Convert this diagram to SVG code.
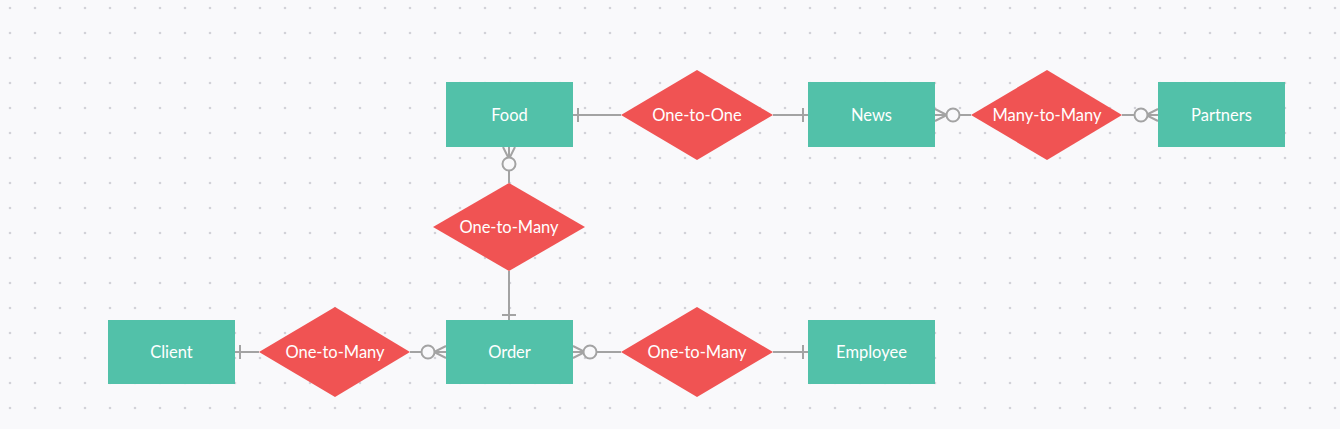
<svg xmlns="http://www.w3.org/2000/svg" width="1340" height="429" viewBox="0 0 1340 429">
<defs>
<pattern id="dots" x="0" y="0" width="25" height="25" patternUnits="userSpaceOnUse" patternTransform="translate(10 8)">
<circle cx="0" cy="0" r="1.3" fill="#d2d2d8"/>
<circle cx="25" cy="0" r="1.3" fill="#d2d2d8"/>
<circle cx="0" cy="25" r="1.3" fill="#d2d2d8"/>
<circle cx="25" cy="25" r="1.3" fill="#d2d2d8"/>
</pattern>
</defs>
<style>
.ent{fill:#52c1a9}
.rel{fill:#f05353}
.lbl{font-family:Lato,"Open Sans",sans-serif;font-size:16.5px;fill:#ffffff;text-anchor:middle;dominant-baseline:central}
.ln{stroke:#a3a3a3;stroke-width:2;fill:none}
.cir{stroke:#a3a3a3;stroke-width:2;fill:#f9f9fb}
</style>
<rect width="1340" height="429" fill="#f9f9fb"/>
<rect width="1340" height="429" fill="url(#dots)"/>

<g id="connectors">
<!-- Food - One-to-One -->
<path class="ln" d="M573 115H621M578 108V122"/>
<!-- One-to-One - News -->
<path class="ln" d="M773 115H808M803 108V122"/>
<!-- News - Many-to-Many -->
<path class="ln" d="M935 115H946M935 109L947 115L935 121M960 115H971"/>
<circle class="cir" cx="953" cy="115" r="6.5"/>
<!-- Many-to-Many - Partners -->
<path class="ln" d="M1122 115H1134M1148 115H1158M1158 109L1146 115L1158 121"/>
<circle class="cir" cx="1141" cy="115" r="6.5"/>
<!-- Food - One-to-Many (vertical) -->
<path class="ln" d="M509 147V157M503 147L509 159L515 147M509 171V183"/>
<circle class="cir" cx="509" cy="164" r="6.5"/>
<!-- One-to-Many - Order -->
<path class="ln" d="M509 271V320M502 315H516"/>
<!-- Client - One-to-Many -->
<path class="ln" d="M235 352H259M240 345V359"/>
<!-- One-to-Many - Order (left) -->
<path class="ln" d="M410 352H421M435 352H446M446 346L434 352L446 358"/>
<circle class="cir" cx="428" cy="352" r="6.5"/>
<!-- Order - One-to-Many (right) -->
<path class="ln" d="M573 352H583M573 346L585 352L573 358M597 352H621"/>
<circle class="cir" cx="590" cy="352" r="6.5"/>
<!-- One-to-Many - Employee -->
<path class="ln" d="M773 352H808M803 345V359"/>
</g>

<g id="food"><rect class="ent" x="446" y="82" width="127" height="65"/><text class="lbl" x="509.5" y="115">Food</text></g>
<g id="news"><rect class="ent" x="808" y="82" width="127" height="65"/><text class="lbl" x="871.5" y="115">News</text></g>
<g id="partners"><rect class="ent" x="1158" y="82" width="127" height="65"/><text class="lbl" x="1221.5" y="115">Partners</text></g>
<g id="client"><rect class="ent" x="108" y="320" width="127" height="64"/><text class="lbl" x="171.5" y="352">Client</text></g>
<g id="order"><rect class="ent" x="446" y="320" width="127" height="64"/><text class="lbl" x="509.5" y="352">Order</text></g>
<g id="employee"><rect class="ent" x="808" y="320" width="127" height="64"/><text class="lbl" x="871.5" y="352">Employee</text></g>

<g id="rel-food-news"><polygon class="rel" points="697,70 773,115 697,160 621,115"/><text class="lbl" x="697" y="115">One-to-One</text></g>
<g id="rel-news-partners"><polygon class="rel" points="1047,70 1122,115 1047,160 971,115"/><text class="lbl" x="1047" y="115">Many-to-Many</text></g>
<g id="rel-food-order"><polygon class="rel" points="509,183 585,227 509,271 433,227"/><text class="lbl" x="509" y="227">One-to-Many</text></g>
<g id="rel-client-order"><polygon class="rel" points="335,307 410,352 335,397 259,352"/><text class="lbl" x="335" y="352">One-to-Many</text></g>
<g id="rel-order-employee"><polygon class="rel" points="697,307 773,352 697,397 621,352"/><text class="lbl" x="697" y="352">One-to-Many</text></g>
</svg>
